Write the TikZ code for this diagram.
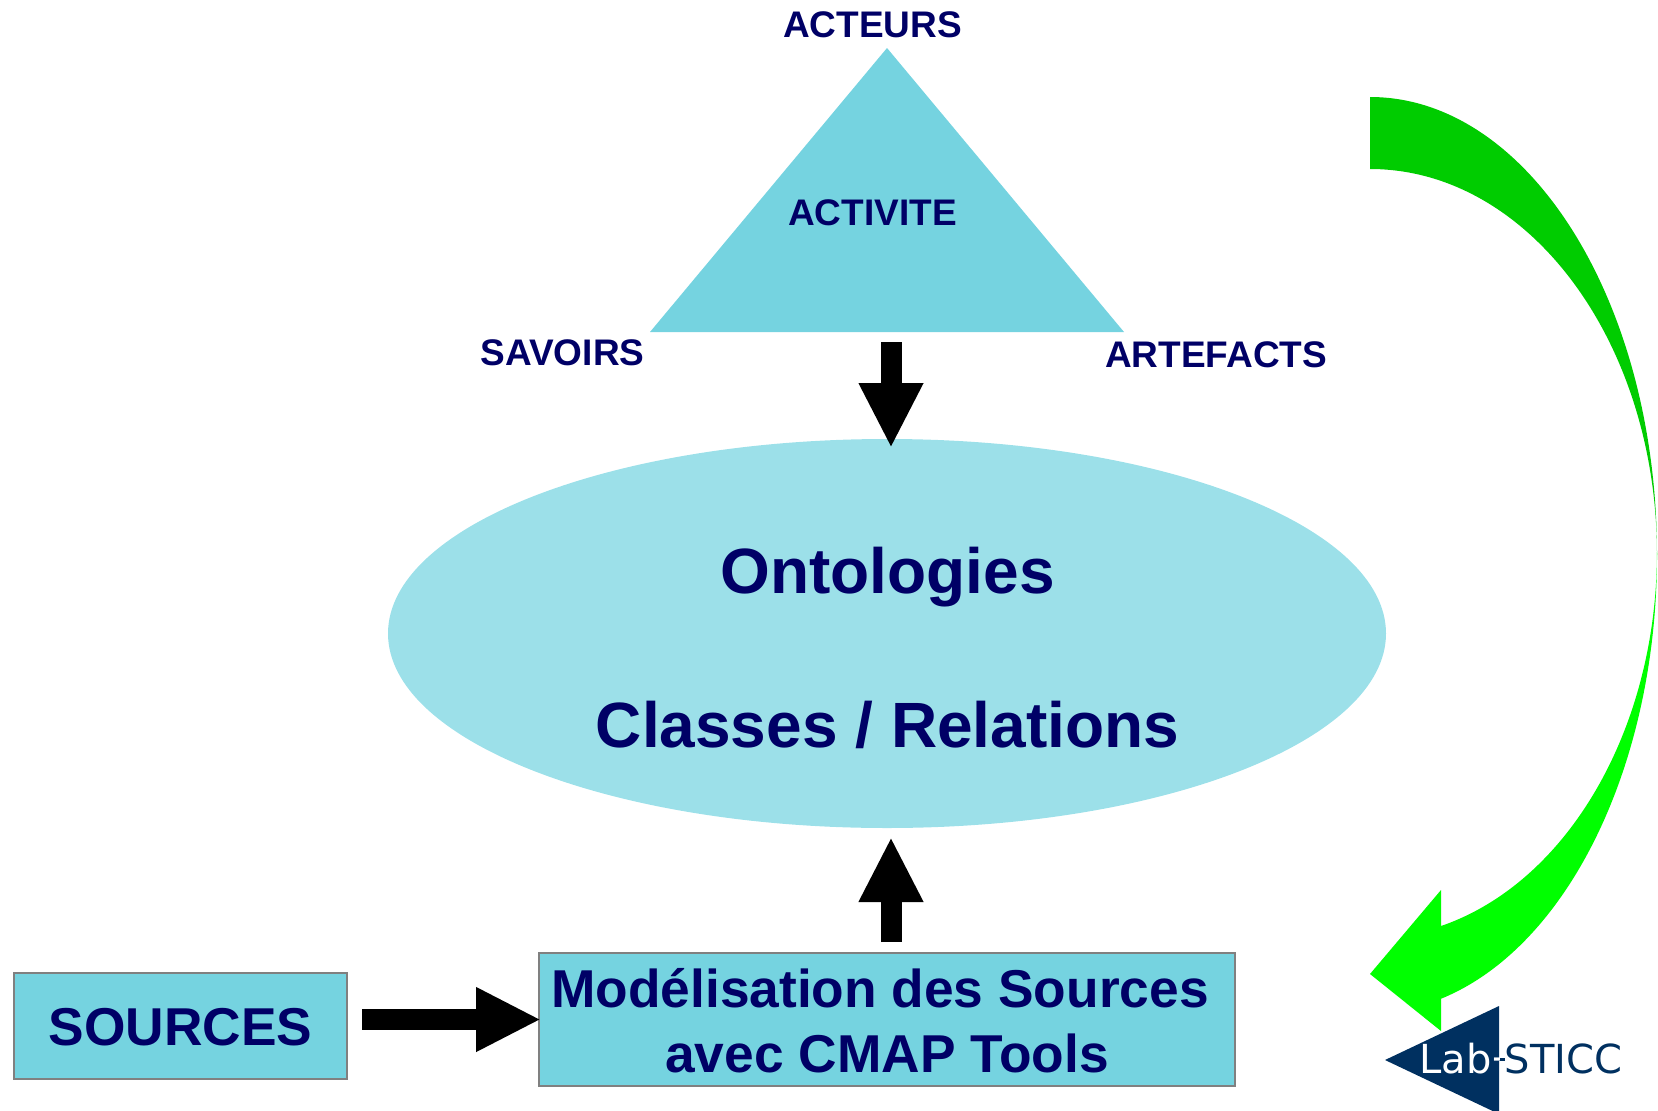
\documentclass[tikz,border=0pt]{standalone}
\usepackage{fontspec}
\setmainfont{Liberation Sans}
\newfontfamily\logofont{DejaVu Sans}
\usetikzlibrary{shapes.geometric,arrows.meta}
\definecolor{navytxt}{HTML}{000066}
\definecolor{boxblue}{HTML}{75D3E0}
\definecolor{ellblue}{HTML}{9CE0E9}
\definecolor{logoblue}{HTML}{003060}
\definecolor{gdark}{HTML}{00CC00}
\definecolor{glight}{HTML}{00FF00}
\tikzset{
  lbl/.style={text=navytxt,font=\fontsize{37}{37}\selectfont\bfseries,inner sep=0pt,anchor=center},
  big/.style={text=navytxt,font=\fontsize{64}{64}\selectfont\bfseries,inner sep=0pt,anchor=center},
  mid/.style={text=navytxt,font=\fontsize{53.3}{53.3}\selectfont\bfseries,inner sep=0pt,anchor=center},
  boxs/.style={draw=black!50,line width=1.5pt,fill=boxblue,inner sep=0pt,rectangle},
  blockarrow/.style={line width=21pt,-{Triangle[length=65pt,width=60pt]},black},
  logotxt/.style={font=\fontsize{40}{40}\selectfont\logofont,inner sep=0pt,anchor=base west}
}
\begin{document}
\begin{tikzpicture}[x=1pt,y=-1pt]
\useasboundingbox (0,0) rectangle (1658,1111);
% triangle
\coordinate (tA) at (887,48);
\coordinate (tB) at (650,332);
\coordinate (tC) at (1124,332);
\fill[boxblue] (tA) -- (tB) -- (tC) -- cycle;
% ellipse
\node[ellipse,fill=ellblue,minimum width=998pt,minimum height=389pt,inner sep=0pt] (onto) at (887,633.5) {};
% boxes
\node[boxs,minimum width=333pt,minimum height=106pt] (src) at (180.5,1026) {};
\node[boxs,minimum width=696pt,minimum height=133pt] (cmap) at (887,1019.5) {};
% block arrows
\coordinate (d1) at (891,342);
\coordinate (d2) at (891,448);
\coordinate (u1) at (891,942);
\coordinate (u2) at (891,837);
\coordinate (r1) at (362,1019.5);
\coordinate (r2) at (541,1019.5);
\draw[blockarrow] (d1) -- (d2);
\draw[blockarrow] (u1) -- (u2);
\draw[blockarrow] (r1) -- (r2);
% texts
\node[lbl] (acteurs) at (872.5,25) {ACTEURS};
\node[lbl] (activite) at (872.5,212.5) {ACTIVITE};
\node[lbl] (savoirs) at (562.5,353) {SAVOIRS};
\node[lbl] (artefacts) at (1216,354.5) {ARTEFACTS};
\node[big] (t1) at (887.5,577.5) {Ontologies};
\node[big] (t2) at (887.5,725) {Classes / Relations};
\node[mid] (sources) at (180.5,1027) {SOURCES};
\node[mid] (m1) at (880,988) {Modélisation des Sources};
\node[mid] (m2) at (887,1053.5) {avec CMAP Tools};
% green curved arrow
\fill[gdark] (1370,97) arc[start angle=-90,end angle=0,x radius=287,y radius=458]
  arc[start angle=0,end angle=-90,x radius=287,y radius=386] -- cycle;
\fill[glight] (1657,555) arc[start angle=0,end angle=75.67,x radius=287,y radius=458]
  -- (1441,1031) -- (1370,974) -- (1441,890) -- (1441,926)
  arc[start angle=75.67,end angle=0,x radius=287,y radius=386] -- cycle;
% logo
\coordinate (l1) at (1385,1060);
\coordinate (l2) at (1499,1006);
\coordinate (l3) at (1499,1114);
\fill[logoblue] (l1) -- (l2) -- (l3) -- cycle;
\fill[logoblue] (1499,1058) rectangle (1505,1061);
\node[logotxt,text=white] (lab) at (1419,1073.5) {Lab};
\begin{scope}
\clip (l1) -- (l2) -- (l3) -- cycle;
\node[logotxt,text=white] (dash) at (1492,1070.5) {-};
\end{scope}
\node[logotxt,text=logoblue] (sticc) at (1504.4,1073.5) {STICC};
\end{tikzpicture}
\end{document}
